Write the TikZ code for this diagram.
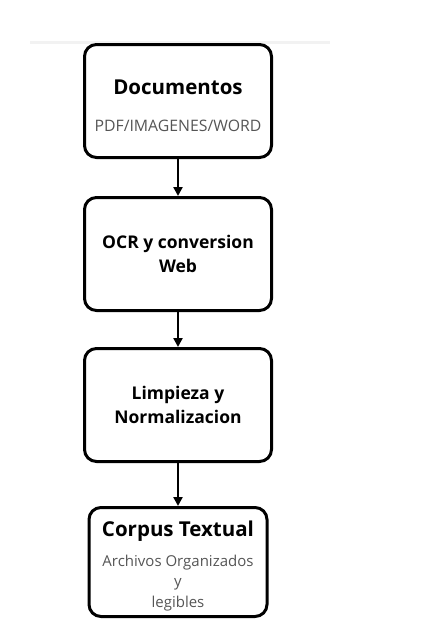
\documentclass[tikz,border=0pt]{standalone}
\usepackage{fontspec}
\setmainfont{Open Sans}
\usetikzlibrary{positioning,arrows.meta}
\definecolor{subgray}{HTML}{555555}
\definecolor{topgray}{HTML}{F2F2F2}
\begin{document}
\begin{tikzpicture}[x=1pt, y=-1pt,
    stepbox/.style={draw, line width=3pt, rounded corners=12pt, align=center,
      minimum width=187pt, minimum height=113pt, inner sep=2pt},
    title/.style={font=\bfseries\fontsize{17.5}{23.5}\selectfont},
    subtitle/.style={font=\fontsize{15.8}{20.5}\selectfont},
    flow/.style={line width=2.5pt, -{Triangle[length=9pt, width=9pt]}}]
      \path [use as bounding box] (0, 0) rectangle (442, 624);
      \draw [topgray, line width=3pt] (30, 42) -- (330, 42);
      \node [stepbox, subtitle] (docs) at (178, 101)
        {\rule{0pt}{24pt}{\bfseries\fontsize{20.5}{24}\selectfont Documentos}\\[17pt]
         {\color{subgray}PDF/IMAGENES/WORD}};
      \node [stepbox, title, below=37pt of docs] (ocr) {OCR y conversion\\Web};
      \node [stepbox, title, below=35pt of ocr] (clean) {Limpieza y\\Normalizacion};
      \node [stepbox, subtitle, font=\fontsize{15}{20.5}\selectfont,
        minimum width=178pt, minimum height=109pt,
        below=43pt of clean] (corpus)
        {\rule{0pt}{24pt}{\bfseries\fontsize{20.5}{24}\selectfont Corpus Textual}\\[9pt]
         {\color{subgray}Archivos Organizados}\\
         {\color{subgray}y}\\
         {\color{subgray}legibles}};
      \foreach \a/\b in {docs/ocr, ocr/clean, clean/corpus} {
        \draw [flow] (\a) -- (\b);
      }
    \end{tikzpicture}
\end{document}
